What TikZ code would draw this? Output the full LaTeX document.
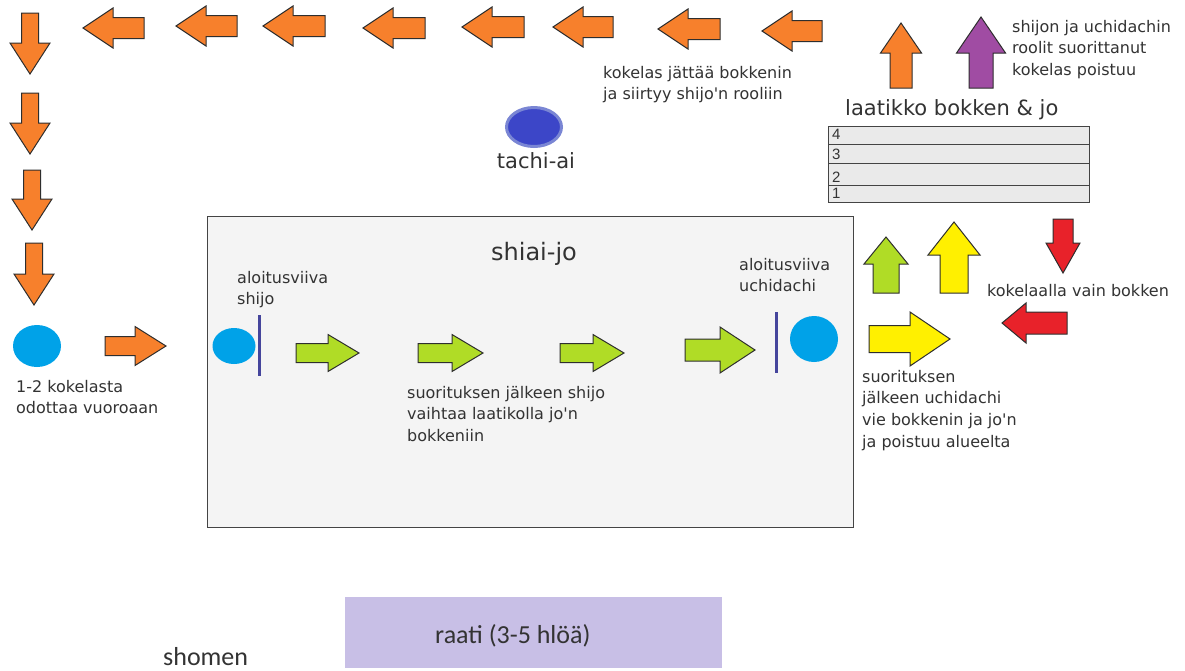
\documentclass[tikz,border=0pt]{standalone}
\usepackage{fontspec}
\setmainfont{DejaVu Sans}
\newfontfamily\calibfont{Carlito}
\newfontfamily\numfont{Liberation Sans}
\usetikzlibrary{shapes.geometric}
\definecolor{orgc}{HTML}{F7802C}
\definecolor{limec}{HTML}{B0DC26}
\definecolor{yelc}{HTML}{FFF000}
\definecolor{redc}{HTML}{E8222A}
\definecolor{purc}{HTML}{A04CA3}
\definecolor{turq}{HTML}{00A2E8}
\definecolor{lav}{HTML}{C8BFE6}
\definecolor{indc}{HTML}{3C46C8}
\definecolor{indrim}{HTML}{7A86D4}
\definecolor{linec}{HTML}{45459C}
\definecolor{txt}{HTML}{333333}
\definecolor{arrline}{HTML}{2E2E2E}
\definecolor{boxfill}{HTML}{F4F4F4}
\definecolor{rowfill}{HTML}{EAEAEA}
\definecolor{boxline}{HTML}{444444}
\newcommand\lns[1]{\begin{tabular}[t]{@{}l@{}}#1\end{tabular}}
\tikzset{
  pics/barrow/.style args={#1/#2/#3/#4}{code={
    \path[draw=arrline, line width=1pt, line join=miter, pic actions]
      (0,#2) -- ({#1-#4},#2) -- ({#1-#4},#3) -- (#1,0) -- ({#1-#4},-#3) -- ({#1-#4},-#2) -- (0,-#2) -- cycle;
  }},
  lbl/.style={anchor=base west, inner sep=0pt, text=txt, font=\fontsize{16}{21.7}\selectfont},
  big/.style={inner sep=0pt, text=txt},
  person/.style={ellipse, fill=turq, inner sep=0pt},
  rowbox/.style={draw=boxline, fill=rowfill, line width=1.2pt, anchor=north west, inner sep=0pt, minimum width=261pt},
  num/.style={anchor=base west, inner sep=0pt, text=txt, font=\numfont\fontsize{15}{18}\selectfont},
  startline/.style={draw=linec, line width=3pt},
}
\begin{document}
\begin{tikzpicture}[x=1pt,y=-1pt]
\fill[white] (0,0) rectangle (1185,670);
\useasboundingbox (0,0) rectangle (1185,670);

% shiai-jo area
\node[draw=boxline, fill=boxfill, line width=1.3pt, anchor=north west, inner sep=0pt,
      minimum width=646pt, minimum height=311pt] (arena) at (207,216) {};
\node[big, anchor=base, font=\fontsize{24}{28}\selectfont] (arenatitle) at (534,260) {shiai-jo};

% top row arrows (left)
\pic[fill=orgc, rotate=180] at (144,28) {barrow=61/10.5/20/30};
\pic[fill=orgc, rotate=180] at (237,26) {barrow=61/10.5/20/30};
\pic[fill=orgc, rotate=180] at (325,26) {barrow=62/10.5/20/30};
\pic[fill=orgc, rotate=180] at (425,28) {barrow=62/10.5/20/30};
\pic[fill=orgc, rotate=180] at (524,27) {barrow=62/10.5/20/30};
\pic[fill=orgc, rotate=180] at (613,27) {barrow=60/10.5/20/30};
\pic[fill=orgc, rotate=180] at (720,29) {barrow=62/10.5/20/30};
\pic[fill=orgc, rotate=180] at (822,31) {barrow=60/10.5/20/30};

% left column arrows (down)
\pic[fill=orgc, rotate=-90] at (30,13) {barrow=61/8.5/20/31};
\pic[fill=orgc, rotate=-90] at (30,93) {barrow=61/8.5/20/31};
\pic[fill=orgc, rotate=-90] at (32,170) {barrow=60/8.5/20/31};
\pic[fill=orgc, rotate=-90] at (34,243) {barrow=62/8.5/20/31};

% waiting candidates
\node[person, minimum width=48pt, minimum height=42pt] (wait) at (37,346) {};
\node[lbl] (waittxt) at (16,392) {\lns{1-2 kokelasta\\odottaa vuoroaan}};
\pic[fill=orgc] at (105,346) {barrow=61/9.5/19.5/31};

% shijo start
\node[person, minimum width=43pt, minimum height=36pt] (shijo) at (234,346) {};
\coordinate (sl1) at (259,315);
\coordinate (sl2) at (259,376);
\draw[startline] (sl1) -- (sl2);
\node[lbl] (shijotxt) at (237,283) {\lns{aloitusviiva\\shijo}};

% green arrows
\pic[fill=limec] at (296,353) {barrow=63/9.5/18.5/31};
\pic[fill=limec] at (418,353) {barrow=65/9.5/18.5/31};
\pic[fill=limec] at (560,353) {barrow=64/9.5/18.5/31};
\pic[fill=limec] at (685,350) {barrow=70/11/23/35};
\node[lbl] (swaptxt) at (407,398) {\lns{suorituksen jälkeen shijo\\vaihtaa laatikolla jo{\textquotesingle}n\\bokkeniin}};

% uchidachi start
\coordinate (ul1) at (776,312);
\coordinate (ul2) at (776,373);
\draw[startline] (ul1) -- (ul2);
\node[person, minimum width=48pt, minimum height=46pt] (uchi) at (814,339) {};
\node[lbl] (uchitxt) at (739,270) {\lns{aloitusviiva\\uchidachi}};

% tachi-ai
\node[ellipse, fill=indc, draw=indrim, line width=3pt, inner sep=0pt,
      minimum width=55pt, minimum height=39pt] (tachi) at (534,127) {};
\node[big, anchor=base, font=\fontsize{21}{25}\selectfont] (tachitxt) at (536,168) {tachi-ai};

\node[lbl] (leavetxt) at (603,78) {\lns{kokelas jättää bokkenin\\ja siirtyy shijo{\textquotesingle}n rooliin}};

% top right
\pic[fill=orgc, rotate=90] at (901,88) {barrow=65/11/20.5/30};
\pic[fill=purc, rotate=90] at (981,88) {barrow=71/12/24.5/36};
\node[lbl] (exittxt) at (1012,32) {\lns{shijon ja uchidachin\\roolit suorittanut\\kokelas poistuu}};

% box stack
\node[big, anchor=base west, font=\fontsize{21}{25}\selectfont] (stacktitle) at (845,115) {laatikko bokken \& jo};
\node[rowbox, minimum height=18pt] (r4) at (828,126) {};
\node[rowbox, minimum height=19pt] (r3) at (828,144) {};
\node[rowbox, minimum height=22pt] (r2) at (828,163) {};
\node[rowbox, minimum height=17pt] (r1) at (828,185) {};
\node[num] (n4) at (832,139) {4};
\node[num] (n3) at (832,159) {3};
\node[num] (n2) at (832,182) {2};
\node[num] (n1) at (832,198) {1};

% right side arrows
\pic[fill=limec, rotate=90] at (886,293) {barrow=56/13/22/27};
\pic[fill=yelc, rotate=90] at (954,293) {barrow=71/14/26/33};
\pic[fill=redc, rotate=-90] at (1063,219) {barrow=54/10/17/30};
\pic[fill=redc, rotate=180] at (1067,323) {barrow=65/11/20/24};
\pic[fill=yelc] at (869,339) {barrow=81/13.5/27/40};
\node[lbl] (bokkentxt) at (987,296) {kokelaalla vain bokken};
\node[lbl] (uchiexit) at (862,382) {\lns{suorituksen\\jälkeen uchidachi\\vie bokkenin ja jo{\textquotesingle}n\\ja poistuu alueelta}};

% panel
\node[fill=lav, anchor=north west, inner sep=0pt, minimum width=377pt, minimum height=71pt] (panel) at (345,597) {};
\node[big, anchor=base west, font=\calibfont\fontsize{26}{30}\selectfont] (paneltxt) at (435,643) {raati (3-5 hlöä)};
\node[big, anchor=base west, font=\calibfont\fontsize{26}{30}\selectfont] (shomen) at (163,665) {shomen};
\end{tikzpicture}
\end{document}
